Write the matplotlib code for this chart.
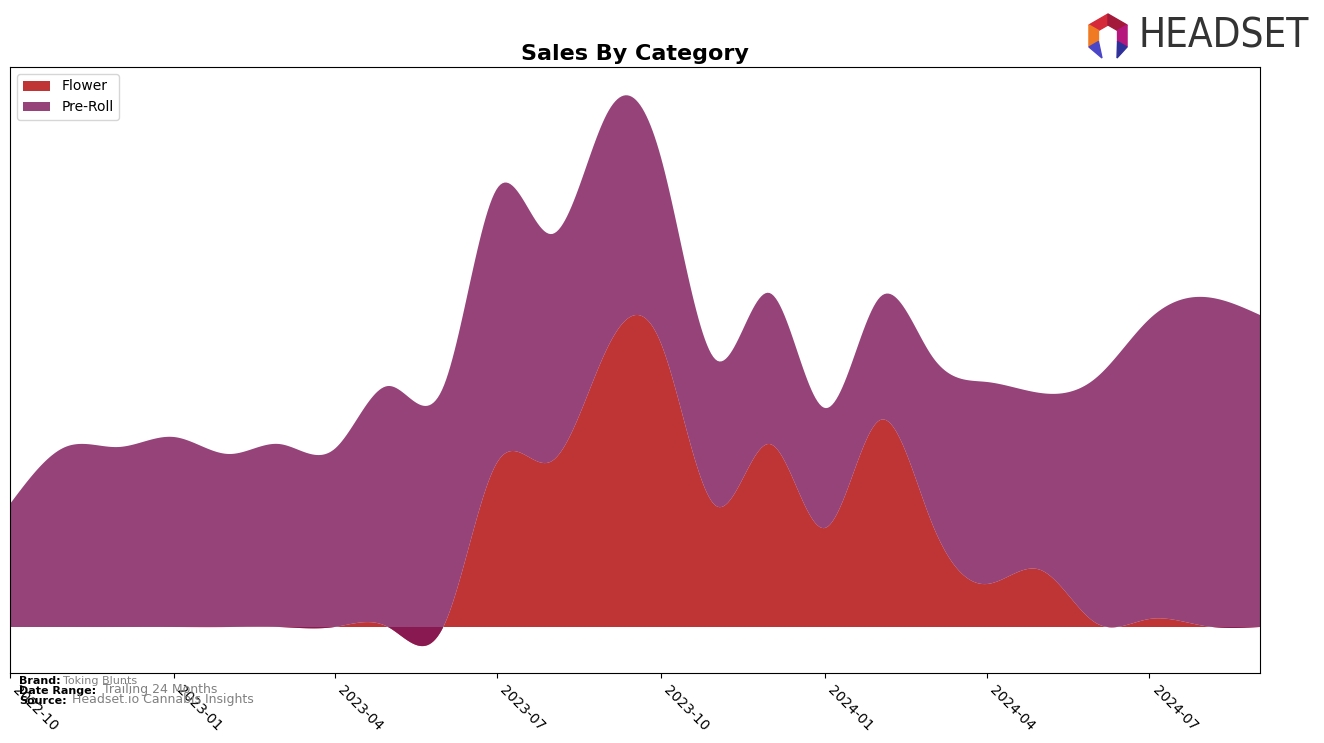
import numpy as np
import pandas as pd
import matplotlib
matplotlib.use("Agg")
import matplotlib.pyplot as plt
import matplotlib.dates as mdates
from matplotlib.patches import Polygon

# Monthly sales by category (arbitrary units)
months = pd.date_range("2022-10-01", "2024-09-01", freq="MS")
flower = [0, 0, 0, 0, 0, 0, 0, 0, 0, 164, 166, 279,
          284, 121, 183, 99, 207, 104, 43, 57, 4, 8, 1, 0]
pre_roll = [123, 180, 180, 190, 173, 183, 178, 241, 240, 274, 227, 235,
            186, 146, 151, 120, 123, 167, 202, 177, 245, 300, 329, 312]
categories = ["Flower", "Pre-Roll"]
colors = ["#b00101", "#7c1459"]

tick_months = pd.date_range("2022-10-01", "2024-07-01", freq="QS-OCT")

W, H = 1324, 743


# Natural cubic spline, so the areas come out smooth like the original
def spline(x, y, xs):
    x = np.asarray(x, float)
    y = np.asarray(y, float)
    n = len(x)
    h = np.diff(x)
    A = np.zeros((n, n))
    b = np.zeros(n)
    A[0, 0] = A[-1, -1] = 1
    for i in range(1, n - 1):
        A[i, i - 1] = h[i - 1]
        A[i, i] = 2 * (h[i - 1] + h[i])
        A[i, i + 1] = h[i]
        b[i] = 3 * ((y[i + 1] - y[i]) / h[i] - (y[i] - y[i - 1]) / h[i - 1])
    c = np.linalg.solve(A, b)
    idx = np.clip(np.searchsorted(x, xs) - 1, 0, n - 2)
    dx = xs - x[idx]
    hi = h[idx]
    bb = (y[idx + 1] - y[idx]) / hi - hi * (2 * c[idx] + c[idx + 1]) / 3
    dd = (c[idx + 1] - c[idx]) / (3 * hi)
    return y[idx] + bb * dx + c[idx] * dx ** 2 + dd * dx ** 3


xnum = mdates.date2num(months)
xs = np.linspace(xnum[0], xnum[-1], 600)
smooth = [spline(xnum, s, xs) for s in (flower, pre_roll)]

fig = plt.figure(figsize=(W / 100, H / 100), dpi=100)
ax = fig.add_axes([10 / W, 1 - 673 / H, 1250 / W, 606 / H])

ax.stackplot(mdates.num2date(xs), *smooth, labels=categories,
             colors=colors, alpha=0.8)
ax.set_xlim(mdates.num2date(xnum[0]), mdates.num2date(xnum[-1]))
ax.set_ylim(-46, 560)
ax.set_yticks([])
ax.set_xticks(tick_months)
ax.xaxis.set_major_formatter(mdates.DateFormatter("%Y-%m"))
plt.setp(ax.get_xticklabels(), rotation=-45, ha="left", fontsize=10)
ax.legend(loc="upper left", fontsize=10)
ax.set_title("Sales By Category", fontsize=16, fontweight="bold", pad=5)

# footer notes
def px(x, y):
    return x / W, 1 - y / H

fig.text(*px(19, 681), "Brand:", fontsize=8, fontweight="bold", va="center")
fig.text(*px(63, 681), "Toking Blunts", fontsize=8, color="gray", va="center")
fig.text(*px(19, 691), "Date Range:", fontsize=8, fontweight="bold", va="center")
fig.text(*px(103, 690), "Trailing 24 Months", fontsize=9, color="gray", va="center")
fig.text(*px(19, 701), "Source:", fontsize=8, fontweight="bold", va="center")
fig.text(*px(72, 700), "Headset.io Cannabis Insights", fontsize=9, color="gray", va="center")

# logo
fig.text(*px(1139, 37), "HEADSET", fontsize=29, color="#333333", va="center",
         family="DejaVu Sans", fontstretch="condensed")
cx, cy = 1108, 36
R, r = 22, 11
ang = np.radians([90, 150, 210, 330, 30])
outer = [(cx + R * np.cos(a), cy - R * np.sin(a)) for a in ang]
inner = [(cx + r * np.cos(a), cy - r * np.sin(a)) for a in ang]
segs = [
    ([outer[0], outer[1], inner[1], inner[0]], "#d42a3a"),
    ([outer[1], outer[2], inner[2], inner[1]], "#f07a24"),
    ([outer[4], outer[0], inner[0], inner[4]], "#a3193a"),
    ([outer[3], outer[4], inner[4], inner[3]], "#b5177c"),
    ([outer[2], inner[2], (cx - 6, 58)], "#4b46c8"),
    ([outer[3], inner[3], (cx + 9, 58)], "#2f2f9a"),
]
for pts, col in segs:
    fig.add_artist(Polygon([px(*p) for p in pts], closed=True, color=col,
                           transform=fig.transFigure))

fig.savefig("out.png", dpi=100)
